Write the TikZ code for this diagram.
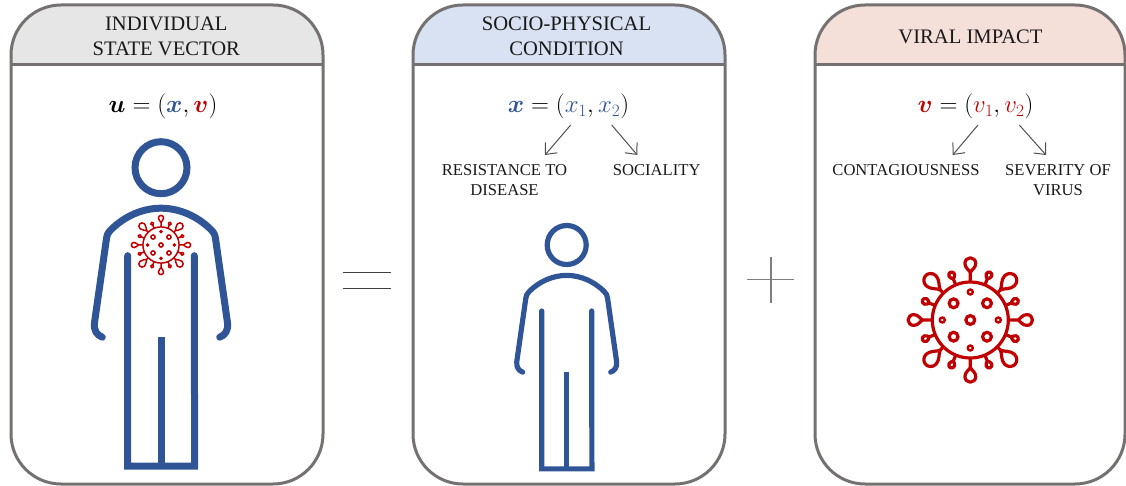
\documentclass[tikz,border=0pt]{standalone}
\usepackage{amsmath,bm}
\usepackage{fontspec}
\setmainfont{Liberation Serif}
\usetikzlibrary{arrows.meta}
\definecolor{pblue}{HTML}{2F5597}
\definecolor{pred}{HTML}{C00000}
\definecolor{frameg}{HTML}{767171}
\definecolor{hgray}{HTML}{E7E6E6}
\definecolor{hblue}{HTML}{D9E2F3}
\definecolor{hred}{HTML}{F4DFD9}
\definecolor{linkg}{HTML}{505050}
\definecolor{eqg}{HTML}{404040}
\definecolor{plusg}{HTML}{7F7F7F}
\tikzset{
  frameline/.style={draw=frameg,line width=3pt},
  headtext/.style={font=\fontsize{20.6}{25}\selectfont,align=center,text=black!90,inner sep=0pt},
  labeltext/.style={font=\fontsize{16.6}{20}\selectfont,align=center,text=black!90,inner sep=0pt},
  eqtext/.style={font=\fontsize{24}{27}\selectfont,inner sep=0pt,anchor=base},
  linkarrow/.style={draw=linkg,line width=1pt,-{Straight Barb[length=9pt,width=16pt,line width=1pt]}}
}
\newcommand{\panelbox}[3]{%
  \begin{scope}
    \clip[rounded corners=50pt] (#1,5) rectangle (#2,484);
    \fill[#3] (#1,5) rectangle (#2,65);
  \end{scope}
  \draw[frameline,rounded corners=50pt] (#1,5) rectangle (#2,484);
  \draw[frameline] (#1,65) -- (#2,65);
}
% person: centre x, head centre y, scale, stroke width
\newcommand{\personfig}[4]{%
  \begin{scope}[shift={(#1,#2)},scale=#3,draw=pblue,line width=#4pt]
    \draw (0,0) circle[radius=26];
    \draw[line cap=round,line join=round] (-58.7,169.5) .. controls (-64,167.5) and (-67.5,163) .. (-66.5,155)
      -- (-54.5,71) .. controls (-54,67) and (-53,65) .. (-50,62)
      .. controls (-37,49) and (-19,40.5) .. (0,40.5)
      .. controls (19,40.5) and (37,49) .. (50,62)
      .. controls (53,65) and (54,67) .. (54.5,71) -- (66.5,155)
      .. controls (67.5,163) and (64,167.5) .. (58.7,169.5);
    \draw[line cap=round,line join=miter] (-33.3,88) -- (-33.3,298.5) -- (33.6,298.5) -- (33.3,88);
    \draw (0,169.5) -- (0,298.5);
  \end{scope}
}
% virus: centre, scale, stroke width
\newcommand{\virusfig}[4]{%
  \begin{scope}[shift={(#1,#2)},scale=#3,draw=pred,line width=#4pt]
    \draw (0,0) circle[radius=38];
    \foreach \a in {0,90,180,270}{
      \draw[rotate=\a,line join=round] (38,0) -- (47.5,0)
        .. controls (50,-1) and (52,-5.4) .. (56.5,-5.4)
        .. controls (59.8,-5.4) and (62.2,-3) .. (62.2,0)
        .. controls (62.2,3) and (59.8,5.4) .. (56.5,5.4)
        .. controls (52,5.4) and (50,1) .. (47.5,0);
    }
    \foreach \a in {45,135,225,315}{
      \draw[rotate=\a,line join=round] (38,0) -- (42.5,0)
        .. controls (46,-1) and (50,-7) .. (55.5,-7)
        .. controls (60,-7) and (63,-3.5) .. (63,0)
        .. controls (63,3.5) and (60,7) .. (55.5,7)
        .. controls (50,7) and (46,1) .. (42.5,0);
    }
    \foreach \a in {22.5,67.5,112.5,157.5,202.5,247.5,292.5,337.5}{
      \draw[rotate=\a,line join=round] (38,0) -- (44.5,0)
        .. controls (45.5,-0.5) and (46,-3) .. (48.5,-3)
        .. controls (50.4,-3) and (51.8,-1.6) .. (51.8,0)
        .. controls (51.8,1.6) and (50.4,3) .. (48.5,3)
        .. controls (46,3) and (45.5,0.5) .. (44.5,0);
    }
    \draw (0,0) circle[radius=4.4];
    \foreach \p in {(-16.7,-16.7),(16.7,-16.7),(-16.7,16.7),(16.7,16.7)}{\draw \p circle[radius=4.4];}
    \foreach \p in {(0,-28),(0,28),(-28,0),(28,0)}{\draw[line width=0.75*#4pt] \p circle[radius=2.5];}
  \end{scope}
}
\begin{document}
\begin{tikzpicture}[x=1pt,y=-1pt]
\useasboundingbox (0,0) rectangle (1126,486);
\panelbox{11}{323}{hgray}
\panelbox{413}{725}{hblue}
\panelbox{815}{1125}{hred}

\node[headtext] (t1) at (166.3,36.5) {INDIVIDUAL\\STATE VECTOR};
\node[headtext] (t2) at (566.5,36.5) {SOCIO-PHYSICAL\\CONDITION};
\node[headtext] (t3) at (970.5,36.5) {VIRAL IMPACT};

\node[eqtext] (e1) at (163,113) {$\bm{u}=(\textcolor{pblue}{\bm{x}},\textcolor{pred}{\bm{v}})$};
\node[eqtext] (e2) at (568.5,113) {$\textcolor{pblue}{\bm{x}}=(\textcolor{pblue}{x_1},\textcolor{pblue}{x_2})$};
\node[eqtext] (e3) at (975.5,113) {$\textcolor{pred}{\bm{v}}=(\textcolor{pred}{v_1},\textcolor{pred}{v_2})$};

\coordinate (a1s) at (570.7,125); \coordinate (a1e) at (545,155);
\coordinate (a2s) at (611.7,125); \coordinate (a2e) at (637.3,155);
\coordinate (a3s) at (978,125);   \coordinate (a3e) at (952.7,155);
\coordinate (a4s) at (1019.3,125);\coordinate (a4e) at (1046,155);
\draw[linkarrow] (a1s) -- (a1e);
\draw[linkarrow] (a2s) -- (a2e);
\draw[linkarrow] (a3s) -- (a3e);
\draw[linkarrow] (a4s) -- (a4e);

\node[labeltext] (l1) at (504.5,180) {RESISTANCE TO\\DISEASE};
\node[labeltext] (l2) at (656.7,170) {SOCIALITY};
\node[labeltext] (l3) at (906,170) {CONTAGIOUSNESS};
\node[labeltext] (l4) at (1058,180) {SEVERITY OF\\VIRUS};

\personfig{161}{167.7}{1}{7}
\personfig{566.7}{245}{0.75}{5.2}
\virusfig{161}{245}{0.476}{1.5}
\virusfig{970.3}{320}{1}{3.2}

\coordinate (eqa) at (343,272.3); \coordinate (eqb) at (390.5,272.3);
\coordinate (eqc) at (343,288); \coordinate (eqd) at (390.5,288);
\draw[draw=eqg,line width=1pt] (eqa) -- (eqb);
\draw[draw=eqg,line width=1pt] (eqc) -- (eqd);
\coordinate (pla) at (747.3,279.7); \coordinate (plb) at (794,279.7);
\coordinate (plc) at (771,257); \coordinate (pld) at (771,302.7);
\draw[draw=plusg,line width=1.4pt] (pla) -- (plb);
\draw[draw=plusg,line width=1.4pt] (plc) -- (pld);
\end{tikzpicture}
\end{document}
